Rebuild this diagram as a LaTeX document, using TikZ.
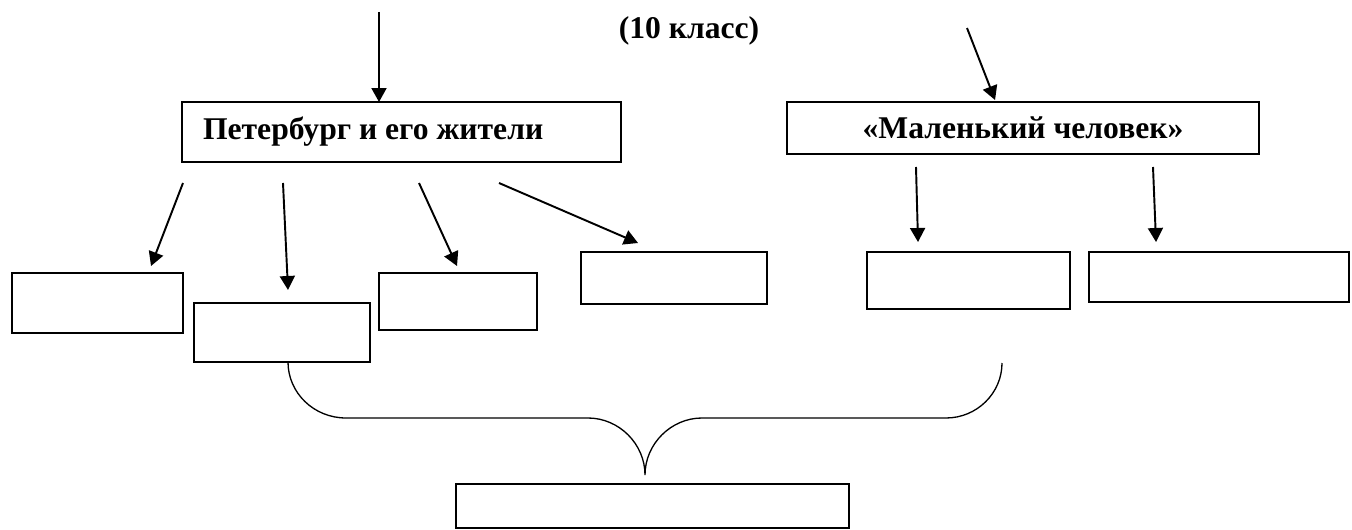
\documentclass[tikz,border=0pt]{standalone}
\usepackage{fontspec}
\setmainfont{Liberation Serif}
\usetikzlibrary{arrows.meta,calc}
\usetikzlibrary{positioning}

\begin{document}
\begin{tikzpicture} [
    x=0.02cm, y=-0.02cm,
    box/.style={rectangle, draw=black, line width=1.1pt, inner sep=0pt, outer sep=0pt},
    lbl/.style={font=\fontsize{18}{21}\selectfont\bfseries},
    brace/.style={line width=0.75pt},
    >={Triangle[length=0.28cm,width=0.3cm]}
    ]
    \useasboundingbox (0,0) rectangle (1352,530);
    %Nodes
    \node[lbl]      (title)   at (689,31)    {(10 класс)};
    \node[box, lbl, minimum width=8.78cm, minimum height=1.2cm, text width=7.94cm, inner xsep=0.42cm, align=flush left]
                    (pet)     at (401.5,132) {Петербург и его жители};
    \node[box, lbl, minimum width=9.44cm, minimum height=1.04cm]
                    (mal)     at (1023,128)  {«Маленький человек»};
    \node[box, minimum width=3.42cm, minimum height=1.2cm]  (b1) at (97.5,303)  {};
    \node[box, minimum width=3.52cm, minimum height=1.18cm] (b2) at (282,332.5) {};
    \node[box, minimum width=3.16cm, minimum height=1.14cm] (b3) at (458,301.5) {};
    \node[box, minimum width=3.72cm, minimum height=1.04cm] (b4) at (674,278)   {};
    \node[box, minimum width=4.06cm, minimum height=1.14cm] (b5) at (968.5,280.5) {};
    \node[box, minimum width=5.2cm,  minimum height=1.0cm]  (b6) at (1219,277)  {};
    \node[box, minimum width=7.86cm, minimum height=0.88cm] (res) at (652.5,506) {};
    %Free ends
    \coordinate (in1) at (379,12);
    \coordinate (in2) at (967,28);
    \coordinate (p1) at (183,183);
    \coordinate (p2) at (283,183);
    \coordinate (p3) at (419,183);
    \coordinate (p4) at (499,183);
    \coordinate (m1) at (916,167);
    \coordinate (m2) at (1153,167);
    %Lines
    \draw[->, line width=1.1pt] (in1) -- (in1 |- pet.north);
    \draw[->, line width=1.1pt] (in2) -- ($(mal.north west)+(208,-2)$);
    \draw[->, line width=1.1pt] (p1) -- ($(b1.north west)+(139,-7)$);
    \draw[->, line width=1.1pt] (p2) -- ($(b2.north west)+(94,-13)$);
    \draw[->, line width=1.1pt] (p3) -- ($(b3.north west)+(78,-7)$);
    \draw[->, line width=1.1pt] (p4) -- ($(b4.north west)+(57,-9)$);
    \draw[->, line width=1.1pt] (m1) -- ($(b5.north west)+(51,-10)$);
    \draw[->, line width=1.1pt] (m2) -- ($(b6.north west)+(67,-10)$);
    %Brace
    \draw[brace] ($(b2.south)+(6,0)$) .. controls (288,393) and (314,418) .. (346,418) -- (588,418)
        .. controls (619,418) and (645,444) .. ($(res.north)+(-7.5,-9)$)
        .. controls (645,444) and (671,418) .. (702,418) -- (946,418)
        .. controls (977,418) and (1002,393) .. (1002,363);
\end{tikzpicture}
\end{document}
